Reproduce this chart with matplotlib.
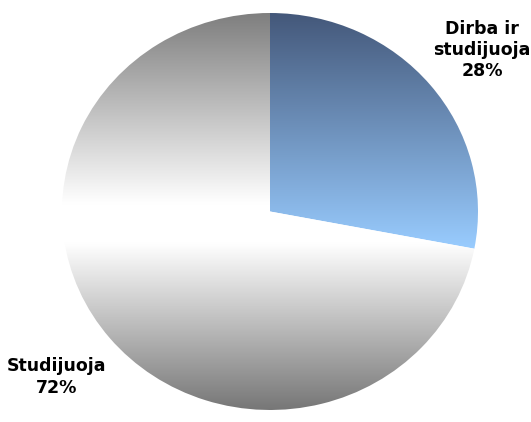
import matplotlib.pyplot as plt
import numpy as np
from matplotlib.colors import LinearSegmentedColormap

labels = ["Dirba ir\nstudijuoja", "Studijuoja"]
shares = [28, 72]

fig = plt.figure(figsize=(5.31, 4.22), dpi=100)
# axes box matches the pie's bounding box (slightly wider than tall)
ax = fig.add_axes([62 / 531, 12 / 422, 416 / 531, 397 / 422])

wedges, _ = ax.pie(shares, startangle=90, counterclock=False, radius=1.0)
ax.set_aspect("auto")
ax.set_xlim(-1, 1)
ax.set_ylim(-1, 1)
ax.axis("off")

blue_cmap = LinearSegmentedColormap.from_list("blue", ["#99ccff", "#44587a"])
gray_cmap = LinearSegmentedColormap.from_list(
    "gray", [(0.0, "#777777"), (0.42, "#ffffff"), (0.52, "#ffffff"), (1.0, "#7f7f7f")]
)

grad = np.linspace(0, 1, 256).reshape(-1, 1)

# blue slice: vertical gradient over the slice's own height
blue_bottom = np.sin(np.deg2rad(90 - 360 * shares[0] / 100))
blue_img = ax.imshow(grad, cmap=blue_cmap, origin="lower", aspect="auto",
                     extent=(0, 1, blue_bottom, 1), zorder=1)
blue_img.set_clip_path(wedges[0])

# gray slice: dark at top and bottom, white band in the middle
gray_img = ax.imshow(grad, cmap=gray_cmap, origin="lower", aspect="auto",
                     extent=(-1, 1, -1, 1), zorder=1)
gray_img.set_clip_path(wedges[1])

for w in wedges:
    w.set_facecolor("none")
    w.set_edgecolor("none")

ax.set_xlim(-1, 1)
ax.set_ylim(-1, 1)

fig.text(482 / 531, 1 - 50 / 422, f"{labels[0]}\n{shares[0]}%", ha="center", va="center",
         fontsize=12.5, fontweight="bold", linespacing=1.25)
fig.text(57 / 531, 1 - 377 / 422, f"{labels[1]}\n{shares[1]}%", ha="center", va="center",
         fontsize=12.5, fontweight="bold", linespacing=1.25)

fig.savefig("out.png", dpi=100)
